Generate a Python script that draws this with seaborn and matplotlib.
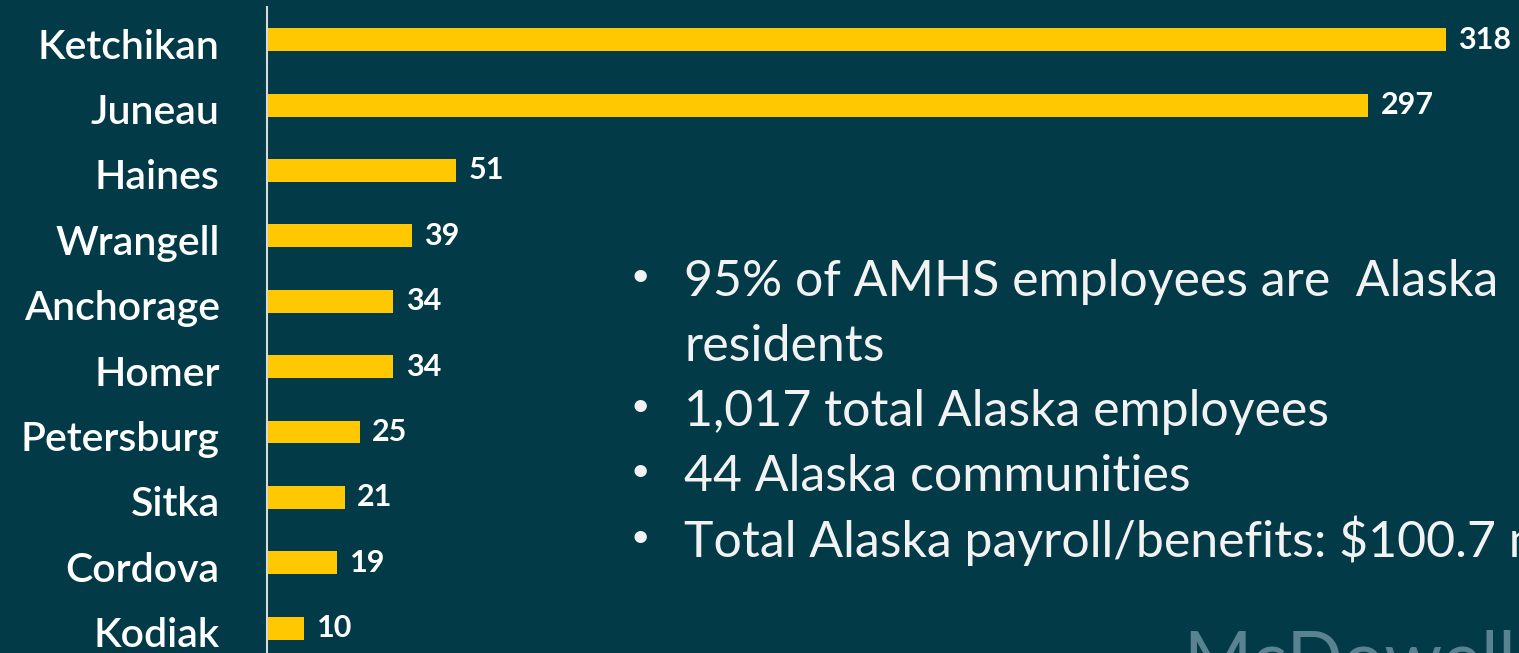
import matplotlib
matplotlib.use("Agg")
import matplotlib.pyplot as plt
import matplotlib.transforms as mtransforms
import seaborn as sns
import pandas as pd

communities = ["Ketchikan", "Juneau", "Haines", "Wrangell", "Anchorage",
               "Homer", "Petersburg", "Sitka", "Cordova", "Kodiak"]
employees = [318, 297, 51, 39, 34, 34, 25, 21, 19, 10]

bullet_lines = [
    ("95% of AMHS employees are  Alaska", True),
    ("residents", False),
    ("1,017 total Alaska employees", True),
    ("44 Alaska communities", True),
    ("Total Alaska payroll/benefits: $100.7 million", True),
]

BG = "#023a48"
BAR = "#ffc800"
TXT = "#f2f2f2"
FONT = ["Lato", "DejaVu Sans"]

sns.set_theme(style="white")
plt.rcParams["font.family"] = FONT

W, H = 1519, 653
fig = plt.figure(figsize=(W / 100, H / 100), dpi=100, facecolor=BG)
ax = fig.add_axes([267 / W, 0, 1 - 267 / W, (H - 7) / H])
ax.set_facecolor(BG)

df = pd.DataFrame({"community": communities, "employees": employees})
sns.barplot(data=df, y="community", x="employees", orient="h",
            color=BAR, saturation=1, width=0.35, linewidth=0, ax=ax)

ax.set_xlim(0, (W - 267) / 3.707)
ax.set_ylim(9.381, -0.5)
ax.set_xlabel("")
ax.set_ylabel("")
ax.set_xticks([])
for s in ["top", "right", "bottom"]:
    ax.spines[s].set_visible(False)
ax.spines["left"].set_color("#d9d9d9")
ax.spines["left"].set_linewidth(1.5)
ax.tick_params(axis="y", length=0, pad=34)
shift = mtransforms.ScaledTranslation(0, -4 / 100, fig.dpi_scale_trans)
for t in ax.get_yticklabels():
    t.set_color("white")
    t.set_fontsize(29.5)
    t.set_fontweight("semibold")
    t.set_transform(t.get_transform() + shift)

ax.bar_label(ax.containers[0], labels=[str(v) for v in employees],
             padding=9, color="white", fontsize=22, fontweight="bold")

# bullet text
baselines = [296, 361, 426, 491, 557]
for (txt, has_bullet), y in zip(bullet_lines, baselines):
    if has_bullet:
        fig.text(640 / W, 1 - (y - 19) / H, "•", color=TXT, fontsize=24,
                 va="center", ha="center")
    fig.text(684 / W, 1 - y / H, txt, color=TXT, fontsize=36,
             va="baseline", ha="left")

fig.text(1183 / W, 1 - 629 / H, "McDowell", color="#5a8391", fontsize=53,
         va="top", ha="left")

fig.savefig("out.png", dpi=100, facecolor=BG)
